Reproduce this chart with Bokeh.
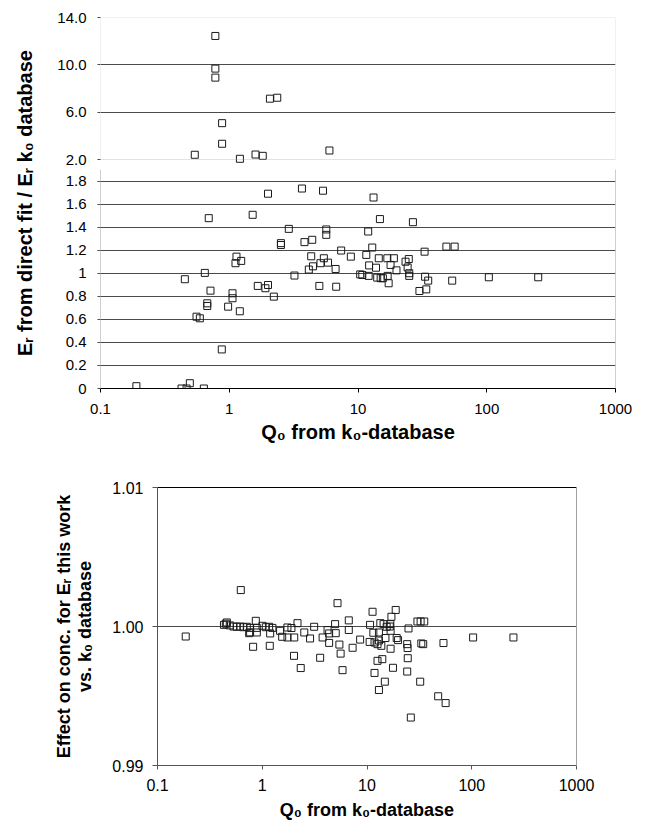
from bokeh.plotting import figure
from bokeh.models import Range1d, LinearAxis, LogAxis, FixedTicker, BoxAnnotation, ColumnDataSource
from bokeh.embed import file_html
from bokeh.resources import INLINE

# ---------------- data ----------------
# top chart: Q0 from k0-database vs Er(direct fit) / Er(k0 database)
q0_top = [
    0.54, 0.78, 0.78, 0.78, 0.88, 0.88, 1.21, 1.60, 1.82, 2.07, 2.36, 6.00,
    0.19, 0.426, 0.466, 0.494, 0.635, 0.452, 0.557, 0.591, 0.646, 0.675,
    0.675, 0.693, 0.715, 0.875, 0.98, 1.06, 1.06, 1.138, 1.118, 1.208,
    1.238, 1.52, 1.666, 1.91, 2.0, 2.0, 2.22, 2.52, 2.52, 2.9,
    3.21, 3.67, 3.84, 4.41, 4.33, 4.15, 4.47, 5.01, 5.11, 5.35,
    5.43, 5.67, 5.67, 5.85, 6.7, 6.77, 7.4, 8.8, 10.4, 10.8,
    11.6, 12.0, 12.1, 12.2, 12.9, 13.2, 13.8, 14.1, 14.5, 14.8,
    15.0, 15.6, 16.9, 17.0, 17.3, 17.9, 19.0, 19.9, 23.4, 24.3,
    24.8, 25.0, 25.0, 26.7, 30.0, 32.9, 33.2, 33.9, 35.1, 48.6,
    53.9, 56.3, 103.8, 251.0,
]
er_ratio = [
    2.40, 12.44, 9.68, 8.92, 5.07, 3.33, 2.06, 2.42, 2.31, 7.14, 7.22, 2.76,
    0.02, 0.0, 0.0, 0.046, 0.0, 0.948, 0.623, 0.609, 1.003, 0.739,
    0.716, 1.478, 0.849, 0.339, 0.71, 0.826, 0.783, 1.144, 1.087, 0.670,
    1.107, 1.507, 0.89, 0.87, 0.898, 1.69, 0.797, 1.261, 1.245, 1.385,
    0.98, 1.735, 1.27, 1.29, 1.147, 1.032, 1.06, 0.89, 1.087, 1.716,
    1.13, 1.38, 1.333, 1.092, 1.037, 0.883, 1.197, 1.144, 0.99, 0.985,
    1.159, 1.362, 0.977, 1.068, 1.223, 1.657, 1.048, 0.962, 1.13, 1.47,
    0.957, 0.957, 1.13, 0.977, 0.913, 1.072, 1.13, 1.025, 1.10, 1.05,
    1.123, 1.0, 0.977, 1.443, 0.846, 1.187, 0.97, 0.86, 0.936, 1.231,
    0.936, 1.231, 0.965, 0.965,
]

# bottom chart: Q0 vs effect on concentration
q0_bottom = [
    0.186, 0.431, 0.449, 0.459, 0.49, 0.531, 0.571, 0.615, 0.624, 0.661,
    0.712, 0.75, 0.766, 0.766, 0.818, 0.868, 0.887, 0.887, 1.006, 1.081,
    1.163, 1.18, 1.19, 1.25, 1.48, 1.55, 1.74, 1.74, 1.90, 2.01,
    2.02, 2.17, 2.33, 2.52, 2.86, 3.13, 3.57, 3.77, 4.2, 4.35,
    4.35, 4.96, 5.03, 5.23, 5.45, 5.6, 5.84, 6.7, 6.7, 7.29,
    8.6, 10.6, 10.7, 11.3, 11.5, 11.8, 11.8, 12.6, 12.6, 13.0,
    13.0, 13.0, 13.4, 13.7, 14.0, 14.4, 14.8, 15.0, 15.4, 16.5,
    16.7, 16.8, 16.8, 17.1, 17.7, 18.8, 19.2, 19.8, 24.2, 24.4,
    24.5, 24.2, 24.9, 26.2, 30.3, 32.5, 35.2, 32.2, 33.0, 34.4,
    47.8, 53.7, 56.3, 103.0, 250.0,
]
conc_effect = [
    0.99928, 1.00012, 1.00020, 1.00029, 1.00008, 1.00000, 0.99998, 1.00000, 1.00262, 0.99995,
    0.99998, 0.99952, 0.99990, 0.99958, 0.99854, 1.00041, 0.99990, 0.99957, 1.00005, 0.99995,
    0.99998, 0.99861, 0.99950, 0.99990, 0.99969, 0.99926, 0.99993, 0.99921, 0.99989, 0.99789,
    0.99921, 1.00024, 0.99701, 0.99957, 0.99914, 0.99998, 0.99775, 0.99921, 0.99974, 0.99950,
    0.99882, 1.00017, 0.99952, 1.00168, 0.99870, 0.99805, 0.99686, 1.00044, 0.99975, 0.99847,
    0.99906, 0.99889, 1.00012, 1.00106, 0.99955, 0.99885, 0.99666, 0.99873, 0.99753, 0.99957,
    0.99899, 0.99543, 1.00024, 0.99861, 0.99765, 1.00017, 0.99603, 0.99917, 0.99998, 1.00000,
    1.00017, 0.99969, 0.99840, 1.00070, 0.99703, 1.00119, 0.99917, 0.99902, 0.99873, 0.99845,
    0.99772, 0.99676, 0.99986, 0.99345, 1.00036, 1.00036, 1.00036, 0.99603, 0.99878, 0.99873,
    0.99498, 0.99881, 0.99449, 0.99921, 0.99921,
]

x_ticks = [0.1, 1, 10, 100, 1000]
x_tick_labels = ["0.1", "1", "10", "100", "1000"]
lower_ticks = [0, 0.2, 0.4, 0.6, 0.8, 1.0, 1.2, 1.4, 1.6, 1.8]
lower_tick_labels = ["0", "0.2", "0.4", "0.6", "0.8", "1", "1.2", "1.4", "1.6", "1.8"]
upper_ticks = [2.0, 6.0, 10.0, 14.0]
upper_tick_labels = ["2.0", "6.0", "10.0", "14.0"]
bottom_y_ticks = [0.99, 1.00, 1.01]
bottom_y_labels = ["0.99", "1.00", "1.01"]

# ---------------- style / geometry ----------------
FONT = "Liberation Sans"
W = 646
X_MIN, X_MAX = 0.1, 1000
LOWER_MAX = 1.9
UPPER_MIN, UPPER_MAX = 2.0, 14.0
GRID_C = "#4a4a4a"
BORDER_C = "#a0a0a0"
MARK_C = "#1a1a1a"

T_LEFT, T_RIGHT, T_TOP, T_BOTTOM = 100, 31, 17, 62
T_FRAME_H, T_LOWER_H, T_UPPER_H = 371, 219, 142
T_H = T_TOP + T_FRAME_H + T_BOTTOM

B_LEFT, B_RIGHT, B_TOP, B_BOTTOM = 157, 70, 37, 57
B_FRAME_H = 278
B_H = B_TOP + B_FRAME_H + B_BOTTOM

lo_end = LOWER_MAX * T_FRAME_H / T_LOWER_H
up_start = UPPER_MAX - (UPPER_MAX - UPPER_MIN) * T_FRAME_H / T_UPPER_H


def to_lower(v):
    return (v - up_start) / (UPPER_MAX - up_start) * lo_end


def style_axis(ax, size="15px"):
    ax.major_label_text_font = FONT
    ax.major_label_text_font_size = size
    ax.major_label_text_color = "black"
    ax.axis_label_text_font = FONT
    ax.axis_label_text_font_style = "bold"
    ax.axis_label_text_color = "black"
    ax.major_tick_in = 0
    ax.minor_tick_line_color = None


# ---------------- top chart (broken y axis) ----------------
up_i = [i for i, v in enumerate(er_ratio) if v >= UPPER_MIN]
lo_i = [i for i, v in enumerate(er_ratio) if v < UPPER_MIN]
src_up = ColumnDataSource(dict(x=[q0_top[i] for i in up_i], y=[er_ratio[i] for i in up_i]))
src_lo = ColumnDataSource(dict(x=[q0_top[i] for i in lo_i], y=[er_ratio[i] for i in lo_i]))

p1 = figure(width=W, height=T_H, x_axis_type="log",
            x_range=Range1d(X_MIN, X_MAX), y_range=Range1d(0, lo_end),
            output_backend="svg", toolbar_location=None,
            min_border_left=T_LEFT, min_border_right=T_RIGHT,
            min_border_top=T_TOP, min_border_bottom=T_BOTTOM)
p1.extra_y_ranges = {"upper": Range1d(up_start, UPPER_MAX)}
p1.outline_line_color = None
p1.xgrid.visible = False

grid_pos = lower_ticks[1:] + [to_lower(v) for v in upper_ticks[1:-1]]
p1.ygrid[0].ticker = FixedTicker(ticks=grid_pos)
p1.ygrid[0].grid_line_color = GRID_C
p1.ygrid[0].grid_line_width = 1

ytick_pos = lower_ticks + [to_lower(v) for v in upper_ticks]
ytick_lab = lower_tick_labels + upper_tick_labels
ya = p1.yaxis[0]
style_axis(ya)
ya.ticker = FixedTicker(ticks=ytick_pos)
ya.major_label_overrides = {float(k): s for k, s in zip(ytick_pos, ytick_lab)}
ya.axis_line_color = None
ya.major_tick_out = 3
ya.major_tick_line_color = GRID_C
ya.major_label_standoff = 11
ya.axis_label = "E\u1d63 from direct fit / E\u1d63 k\u2080 database"
ya.axis_label_text_font_size = "20px"
ya.axis_label_standoff = 18

xa = p1.xaxis[0]
style_axis(xa)
xa.ticker = FixedTicker(ticks=x_ticks)
xa.major_label_overrides = {float(k): s for k, s in zip(x_ticks, x_tick_labels)}
xa.axis_line_color = "black"
xa.major_tick_out = 4
xa.major_tick_line_color = "black"
xa.major_label_standoff = 11
xa.axis_label = "Q\u2080 from k\u2080-database"
xa.axis_label_text_font_size = "20px"
xa.axis_label_standoff = 4

p1.add_layout(BoxAnnotation(left=X_MIN, right=X_MAX, bottom=UPPER_MIN, top=UPPER_MAX,
                            y_range_name="upper", fill_color=None,
                            line_color=BORDER_C, line_width=1))
p1.segment(x0=[X_MIN, X_MAX], y0=[0, 0], x1=[X_MIN, X_MAX], y1=[LOWER_MAX, LOWER_MAX],
           line_color=BORDER_C, line_width=1)

p1.scatter("x", "y", source=src_lo, marker="square", size=7,
           fill_color=None, line_color=MARK_C, line_width=1)
p1.scatter("x", "y", source=src_up, marker="square", size=7, y_range_name="upper",
           fill_color=None, line_color=MARK_C, line_width=1)

# ---------------- bottom chart ----------------
p2 = figure(width=W, height=B_H, x_axis_type="log",
            x_range=Range1d(X_MIN, X_MAX), y_range=Range1d(0.99, 1.01),
            output_backend="svg", toolbar_location=None,
            min_border_left=B_LEFT, min_border_right=B_RIGHT,
            min_border_top=B_TOP, min_border_bottom=B_BOTTOM)
p2.outline_line_color = None
p2.xgrid.visible = False
p2.ygrid[0].ticker = FixedTicker(ticks=[1.00])
p2.ygrid[0].grid_line_color = GRID_C

ya2 = p2.yaxis[0]
style_axis(ya2, "16px")
ya2.ticker = FixedTicker(ticks=bottom_y_ticks)
ya2.major_label_overrides = {float(k): s for k, s in zip(bottom_y_ticks, bottom_y_labels)}
ya2.axis_line_color = "#555555"
ya2.major_tick_out = 5
ya2.major_tick_line_color = "#555555"
ya2.major_label_standoff = 9
ya2.axis_label = "Effect on conc. for E\u1d63 this work\nvs. k\u2080 database"
ya2.axis_label_text_font_size = "18px"
ya2.axis_label_text_line_height = 1.05
ya2.axis_label_standoff = 14

xa2 = p2.xaxis[0]
style_axis(xa2, "16px")
xa2.ticker = FixedTicker(ticks=x_ticks)
xa2.major_label_overrides = {float(k): s for k, s in zip(x_ticks, x_tick_labels)}
xa2.axis_line_color = "#555555"
xa2.major_tick_out = 4
xa2.major_tick_line_color = "#555555"
xa2.major_label_standoff = 9
xa2.axis_label = "Q\u2080 from k\u2080-database"
xa2.axis_label_text_font_size = "18px"
xa2.axis_label_standoff = 6

top_line = LogAxis(ticker=FixedTicker(ticks=[]), major_label_text_font_size="0px",
                   axis_line_color="black", major_tick_line_color=None,
                   minor_tick_line_color=None, major_label_standoff=0)
p2.add_layout(top_line, "above")
right_line = LinearAxis(ticker=FixedTicker(ticks=[]), major_label_text_font_size="0px",
                        axis_line_color=BORDER_C, major_tick_line_color=None,
                        minor_tick_line_color=None, major_label_standoff=0)
p2.add_layout(right_line, "right")

p2.scatter(q0_bottom, conc_effect, marker="square", size=7,
           fill_color=None, line_color=MARK_C, line_width=1)

open("out.html", "w").write(file_html([p1, p2], INLINE))
